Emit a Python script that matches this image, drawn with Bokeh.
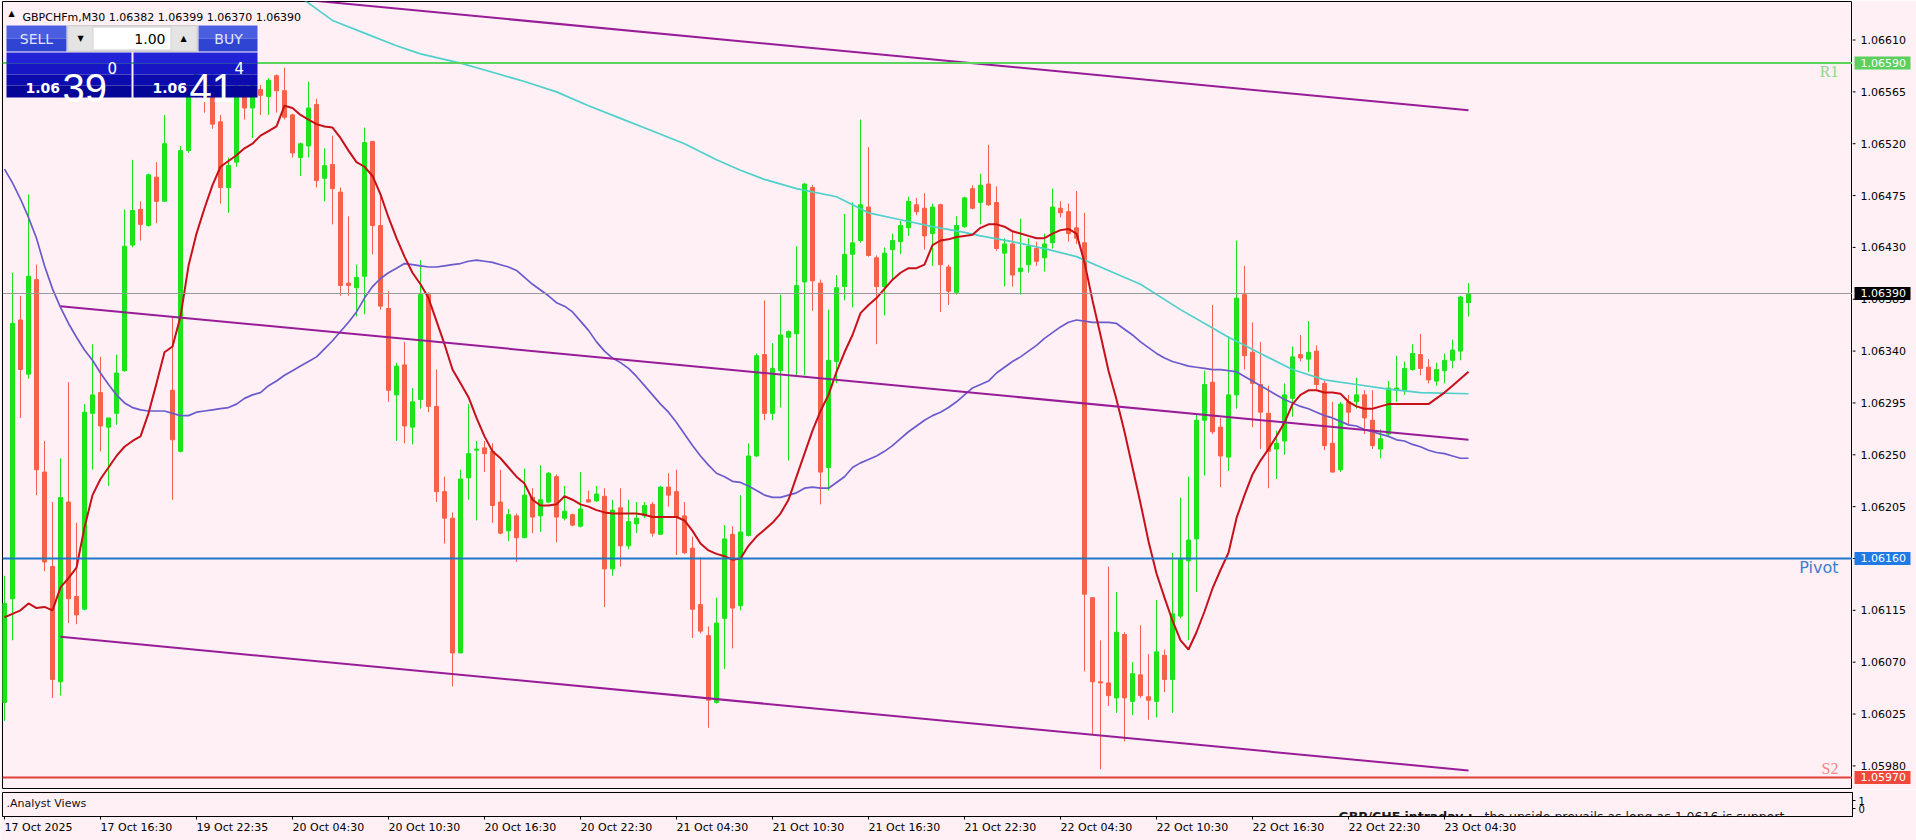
from bokeh.plotting import figure
from bokeh.models import (Range1d, FixedTicker, Label, BoxAnnotation, Span, ColumnDataSource)
from bokeh.layouts import column, row
from bokeh.embed import file_html
from bokeh.resources import INLINE
from bokeh.core.properties import value

# ---------------- data ----------------
symbol = "GBPCHFm,M30"

opens = [
    1.06035, 1.06125, 1.06367, 1.06320, 1.06402, 1.06235, 1.06153, 1.06053, 1.06209, 1.06127,
    1.06116, 1.06286, 1.06304, 1.06274, 1.06286, 1.06323, 1.06432, 1.06463, 1.06449, 1.06491,
    1.06470, 1.06306, 1.06253, 1.06514, 1.06565, 1.06585, 1.06575, 1.06539, 1.06482, 1.06504,
    1.06566, 1.06551, 1.06567, 1.06561, 1.06579, 1.06566, 1.06545, 1.06508, 1.06518, 1.06554,
    1.06490, 1.06502, 1.06478, 1.06399, 1.06395, 1.06405, 1.06522, 1.06449, 1.06377, 1.06302,
    1.06328, 1.06274, 1.06298, 1.06389, 1.06292, 1.06218, 1.06195, 1.06078, 1.06230, 1.06254,
    1.06256, 1.06253, 1.06209, 1.06184, 1.06197, 1.06178, 1.06213, 1.06197, 1.06209, 1.06231,
    1.06195, 1.06198, 1.06188, 1.06211, 1.06210, 1.06214, 1.06151, 1.06204, 1.06171, 1.06190,
    1.06197, 1.06207, 1.06181, 1.06222, 1.06218, 1.06197, 1.06169, 1.06120, 1.06093, 1.06035,
    1.06108, 1.06181, 1.06119, 1.06180, 1.06249, 1.06337, 1.06286, 1.06323, 1.06352, 1.06355,
    1.06400, 1.06482, 1.06399, 1.06239, 1.06331, 1.06396, 1.06424, 1.06436, 1.06465, 1.06421,
    1.06396, 1.06428, 1.06435, 1.06447, 1.06467, 1.06464, 1.06442, 1.06467, 1.06413, 1.06391,
    1.06448, 1.06481, 1.06469, 1.06485, 1.06469, 1.06425, 1.06433, 1.06409, 1.06415, 1.06429,
    1.06421, 1.06434, 1.06464, 1.06461, 1.06447, 1.06434, 1.06126, 1.06053, 1.06052, 1.06039,
    1.06094, 1.06036, 1.06059, 1.06040, 1.06036, 1.06076, 1.06055, 1.06110, 1.06158, 1.06177,
    1.06280, 1.06313, 1.06274, 1.06248, 1.06302, 1.06389, 1.06339, 1.06311, 1.06286, 1.06255,
    1.06262, 1.06299, 1.06337, 1.06333, 1.06340, 1.06312, 1.06260, 1.06237, 1.06296, 1.06296,
    1.06302, 1.06280, 1.06255, 1.06268, 1.06306, 1.06306, 1.06324, 1.06337, 1.06326, 1.06314,
    1.06323, 1.06332, 1.06340, 1.06382]

highs = [
    1.06145, 1.06408, 1.06388, 1.06476, 1.06415, 1.06262, 1.06209, 1.06247, 1.06313, 1.06191,
    1.06294, 1.06346, 1.06335, 1.06282, 1.06337, 1.06463, 1.06506, 1.06470, 1.06494, 1.06504,
    1.06545, 1.06370, 1.06518, 1.06575, 1.06592, 1.06596, 1.06585, 1.06545, 1.06508, 1.06580,
    1.06572, 1.06585, 1.06571, 1.06577, 1.06580, 1.06586, 1.06546, 1.06521, 1.06574, 1.06559,
    1.06516, 1.06527, 1.06482, 1.06457, 1.06415, 1.06534, 1.06522, 1.06476, 1.06392, 1.06330,
    1.06348, 1.06308, 1.06419, 1.06391, 1.06324, 1.06231, 1.06200, 1.06237, 1.06294, 1.06262,
    1.06262, 1.06260, 1.06237, 1.06203, 1.06199, 1.06238, 1.06221, 1.06241, 1.06235, 1.06233,
    1.06223, 1.06199, 1.06235, 1.06219, 1.06223, 1.06221, 1.06211, 1.06221, 1.06211, 1.06209,
    1.06209, 1.06209, 1.06223, 1.06234, 1.06237, 1.06209, 1.06179, 1.06161, 1.06101, 1.06126,
    1.06189, 1.06188, 1.06215, 1.06260, 1.06338, 1.06384, 1.06347, 1.06389, 1.06358, 1.06431,
    1.06486, 1.06484, 1.06402, 1.06376, 1.06406, 1.06459, 1.06469, 1.06541, 1.06517, 1.06423,
    1.06430, 1.06442, 1.06453, 1.06474, 1.06473, 1.06477, 1.06468, 1.06468, 1.06415, 1.06457,
    1.06474, 1.06484, 1.06494, 1.06519, 1.06483, 1.06438, 1.06444, 1.06455, 1.06438, 1.06435,
    1.06442, 1.06481, 1.06470, 1.06468, 1.06479, 1.06460, 1.06126, 1.06089, 1.06153, 1.06131,
    1.06096, 1.06070, 1.06102, 1.06077, 1.06124, 1.06081, 1.06165, 1.06213, 1.06231, 1.06286,
    1.06323, 1.06380, 1.06282, 1.06353, 1.06436, 1.06414, 1.06365, 1.06348, 1.06310, 1.06271,
    1.06312, 1.06344, 1.06354, 1.06366, 1.06345, 1.06314, 1.06296, 1.06296, 1.06302, 1.06317,
    1.06306, 1.06306, 1.06272, 1.06314, 1.06336, 1.06331, 1.06346, 1.06355, 1.06333, 1.06330,
    1.06338, 1.06350, 1.06388, 1.06399]

lows = [
    1.06019, 1.06089, 1.06282, 1.06316, 1.06215, 1.06149, 1.06039, 1.06041, 1.06104, 1.06103,
    1.06115, 1.06237, 1.06253, 1.06223, 1.06276, 1.06322, 1.06430, 1.06436, 1.06448, 1.06451,
    1.06470, 1.06211, 1.06252, 1.06512, 1.06560, 1.06547, 1.06533, 1.06468, 1.06460, 1.06500,
    1.06541, 1.06525, 1.06545, 1.06545, 1.06547, 1.06541, 1.06508, 1.06492, 1.06508, 1.06482,
    1.06470, 1.06450, 1.06388, 1.06388, 1.06370, 1.06372, 1.06424, 1.06376, 1.06296, 1.06262,
    1.06260, 1.06259, 1.06290, 1.06287, 1.06209, 1.06173, 1.06049, 1.06078, 1.06211, 1.06193,
    1.06235, 1.06191, 1.06181, 1.06175, 1.06157, 1.06178, 1.06182, 1.06183, 1.06208, 1.06174,
    1.06193, 1.06188, 1.06187, 1.06209, 1.06209, 1.06118, 1.06145, 1.06153, 1.06168, 1.06182,
    1.06195, 1.06179, 1.06181, 1.06205, 1.06163, 1.06164, 1.06091, 1.06095, 1.06013, 1.06034,
    1.06064, 1.06082, 1.06115, 1.06179, 1.06248, 1.06280, 1.06280, 1.06291, 1.06245, 1.06319,
    1.06319, 1.06375, 1.06207, 1.06219, 1.06312, 1.06384, 1.06378, 1.06434, 1.06422, 1.06346,
    1.06371, 1.06402, 1.06424, 1.06440, 1.06458, 1.06428, 1.06414, 1.06374, 1.06380, 1.06389,
    1.06447, 1.06463, 1.06450, 1.06466, 1.06427, 1.06396, 1.06396, 1.06389, 1.06408, 1.06414,
    1.06409, 1.06429, 1.06456, 1.06435, 1.06433, 1.06062, 1.06007, 1.05977, 1.06032, 1.06026,
    1.06001, 1.06024, 1.06039, 1.06020, 1.06022, 1.06044, 1.06026, 1.06108, 1.06089, 1.06131,
    1.06232, 1.06268, 1.06222, 1.06236, 1.06290, 1.06324, 1.06274, 1.06255, 1.06221, 1.06229,
    1.06250, 1.06283, 1.06331, 1.06322, 1.06307, 1.06254, 1.06235, 1.06235, 1.06276, 1.06290,
    1.06268, 1.06255, 1.06247, 1.06266, 1.06296, 1.06302, 1.06323, 1.06319, 1.06312, 1.06310,
    1.06312, 1.06325, 1.06332, 1.06370]

closes = [
    1.06121, 1.06364, 1.06324, 1.06405, 1.06237, 1.06157, 1.06055, 1.06213, 1.06125, 1.06111,
    1.06287, 1.06302, 1.06275, 1.06282, 1.06321, 1.06431, 1.06462, 1.06450, 1.06493, 1.06470,
    1.06520, 1.06263, 1.06514, 1.06565, 1.06582, 1.06560, 1.06537, 1.06482, 1.06501, 1.06570,
    1.06551, 1.06575, 1.06562, 1.06575, 1.06566, 1.06543, 1.06512, 1.06520, 1.06551, 1.06488,
    1.06501, 1.06481, 1.06397, 1.06397, 1.06404, 1.06521, 1.06449, 1.06379, 1.06306, 1.06327,
    1.06275, 1.06296, 1.06389, 1.06292, 1.06218, 1.06195, 1.06078, 1.06229, 1.06251, 1.06255,
    1.06251, 1.06206, 1.06182, 1.06198, 1.06178, 1.06215, 1.06196, 1.06211, 1.06234, 1.06196,
    1.06201, 1.06189, 1.06203, 1.06209, 1.06216, 1.06151, 1.06202, 1.06171, 1.06192, 1.06195,
    1.06206, 1.06182, 1.06222, 1.06215, 1.06196, 1.06165, 1.06116, 1.06097, 1.06037, 1.06104,
    1.06177, 1.06117, 1.06183, 1.06249, 1.06336, 1.06286, 1.06325, 1.06354, 1.06357, 1.06397,
    1.06485, 1.06401, 1.06235, 1.06332, 1.06395, 1.06424, 1.06434, 1.06467, 1.06423, 1.06396,
    1.06425, 1.06436, 1.06449, 1.06470, 1.06461, 1.06440, 1.06465, 1.06415, 1.06392, 1.06449,
    1.06473, 1.06464, 1.06484, 1.06467, 1.06429, 1.06433, 1.06406, 1.06412, 1.06431, 1.06418,
    1.06433, 1.06465, 1.06460, 1.06442, 1.06438, 1.06129, 1.06053, 1.06052, 1.06041, 1.06096,
    1.06039, 1.06060, 1.06041, 1.06037, 1.06079, 1.06055, 1.06112, 1.06160, 1.06176, 1.06280,
    1.06311, 1.06270, 1.06249, 1.06302, 1.06386, 1.06336, 1.06312, 1.06287, 1.06253, 1.06260,
    1.06302, 1.06335, 1.06334, 1.06339, 1.06311, 1.06258, 1.06235, 1.06294, 1.06287, 1.06302,
    1.06282, 1.06258, 1.06264, 1.06308, 1.06308, 1.06325, 1.06338, 1.06325, 1.06315, 1.06324,
    1.06332, 1.06341, 1.06387, 1.06390]

# fast moving average (red), read bar by bar
red_ma = [
    1.06109, 1.06112, 1.06115, 1.06121, 1.06117, 1.06118, 1.06115, 1.06135, 1.06143, 1.06152,
    1.06187, 1.06215, 1.06229, 1.06239, 1.06249, 1.06257, 1.06262, 1.06266, 1.06286, 1.06312,
    1.06339, 1.06344, 1.06370, 1.06414, 1.06442, 1.06464, 1.06484, 1.06500, 1.06505, 1.06510,
    1.06516, 1.06520, 1.06527, 1.06531, 1.06535, 1.06553, 1.06551, 1.06545, 1.06541, 1.06537,
    1.06535, 1.06534, 1.06525, 1.06514, 1.06504, 1.06500, 1.06492, 1.06476, 1.06456, 1.06438,
    1.06422, 1.06408, 1.06398, 1.06386, 1.06366, 1.06346, 1.06324, 1.06312, 1.06300, 1.06282,
    1.06266, 1.06253, 1.06247, 1.06239, 1.06231, 1.06225, 1.06211, 1.06206, 1.06206, 1.06207,
    1.06214, 1.06211, 1.06207, 1.06205, 1.06202, 1.06200, 1.06199, 1.06199, 1.06199, 1.06199,
    1.06198, 1.06196, 1.06196, 1.06196, 1.06196, 1.06193, 1.06184, 1.06173, 1.06167, 1.06164,
    1.06162, 1.06159, 1.06160, 1.06171, 1.06179, 1.06185, 1.06191, 1.06199, 1.06211, 1.06231,
    1.06251, 1.06271, 1.06288, 1.06302, 1.06322, 1.06339, 1.06354, 1.06373, 1.06380, 1.06386,
    1.06394, 1.06402, 1.06408, 1.06412, 1.06412, 1.06415, 1.06432, 1.06436, 1.06437, 1.06439,
    1.06440, 1.06441, 1.06447, 1.06450, 1.06450, 1.06448, 1.06444, 1.06442, 1.06440, 1.06438,
    1.06438, 1.06442, 1.06445, 1.06446, 1.06442, 1.06417, 1.06384, 1.06354, 1.06323, 1.06298,
    1.06270, 1.06239, 1.06208, 1.06175, 1.06147, 1.06126, 1.06106, 1.06089, 1.06081, 1.06096,
    1.06114, 1.06134, 1.06150, 1.06165, 1.06195, 1.06215, 1.06233, 1.06245, 1.06255, 1.06266,
    1.06278, 1.06294, 1.06302, 1.06306, 1.06306, 1.06304, 1.06304, 1.06303, 1.06296, 1.06292,
    1.06290, 1.06290, 1.06292, 1.06294, 1.06294, 1.06294, 1.06294, 1.06294, 1.06294, 1.06299,
    1.06304, 1.06310, 1.06316, 1.06322]

# slow moving average (slate blue), read bar by bar
slate_ma = [
    1.06498, 1.06486, 1.06472, 1.06456, 1.06438, 1.06414, 1.06394, 1.06378, 1.06364, 1.06352,
    1.06341, 1.06332, 1.06321, 1.06311, 1.06302, 1.06295, 1.06291, 1.06289, 1.06288, 1.06288,
    1.06288, 1.06286, 1.06284, 1.06284, 1.06287, 1.06288, 1.06289, 1.06290, 1.06291, 1.06294,
    1.06299, 1.06302, 1.06304, 1.06310, 1.06314, 1.06319, 1.06323, 1.06327, 1.06331, 1.06335,
    1.06342, 1.06349, 1.06357, 1.06365, 1.06374, 1.06386, 1.06396, 1.06403, 1.06408, 1.06412,
    1.06416, 1.06415, 1.06414, 1.06413, 1.06413, 1.06414, 1.06415, 1.06416, 1.06418, 1.06419,
    1.06418, 1.06417, 1.06415, 1.06413, 1.06410, 1.06404, 1.06398, 1.06393, 1.06388, 1.06382,
    1.06379, 1.06374, 1.06366, 1.06358, 1.06348, 1.06340, 1.06334, 1.06330, 1.06325, 1.06318,
    1.06310, 1.06302, 1.06294, 1.06287, 1.06278, 1.06268, 1.06258, 1.06249, 1.06241, 1.06234,
    1.06231, 1.06227, 1.06226, 1.06223, 1.06219, 1.06215, 1.06213, 1.06213, 1.06215, 1.06217,
    1.06221, 1.06222, 1.06221, 1.06221, 1.06226, 1.06231, 1.06239, 1.06243, 1.06246, 1.06249,
    1.06253, 1.06258, 1.06264, 1.06270, 1.06275, 1.06280, 1.06284, 1.06287, 1.06291, 1.06296,
    1.06302, 1.06308, 1.06311, 1.06314, 1.06321, 1.06326, 1.06331, 1.06335, 1.06340, 1.06345,
    1.06351, 1.06356, 1.06361, 1.06365, 1.06367, 1.06366, 1.06365, 1.06365, 1.06365, 1.06364,
    1.06359, 1.06354, 1.06348, 1.06343, 1.06338, 1.06334, 1.06331, 1.06329, 1.06327, 1.06326,
    1.06325, 1.06324, 1.06324, 1.06323, 1.06322, 1.06318, 1.06314, 1.06310, 1.06306, 1.06302,
    1.06298, 1.06295, 1.06292, 1.06290, 1.06287, 1.06284, 1.06282, 1.06279, 1.06276, 1.06275,
    1.06272, 1.06270, 1.06268, 1.06266, 1.06263, 1.06262, 1.06259, 1.06257, 1.06254, 1.06252,
    1.06251, 1.06249, 1.06247, 1.06247]

# long moving average (turquoise), sampled points
turq_x = [36, 38, 41, 45, 49, 52, 57, 61, 65, 69, 73, 77, 81, 85, 89, 92, 95, 99, 104, 108,
          112, 116, 120, 122, 126, 130, 134, 138, 142, 147, 151, 153, 155, 157, 161, 165, 169,
          173, 177, 183]
turq_y = [1.06652, 1.06642, 1.06627, 1.06616, 1.06605, 1.06598, 1.06590, 1.06582, 1.06574,
          1.06565, 1.06553, 1.06542, 1.06531, 1.06520, 1.06506, 1.06497, 1.06489, 1.06481,
          1.06474, 1.06460, 1.06454, 1.06448, 1.06443, 1.06440, 1.06435, 1.06429, 1.06422,
          1.06410, 1.06398, 1.06376, 1.06360, 1.06352, 1.06345, 1.06338, 1.06324, 1.06315,
          1.06311, 1.06307, 1.06304, 1.06303]

# regression channel (anchor bars and prices)
chan_x = [7, 183]
chan_upper = [1.06665, 1.06549]
chan_mid = [1.06379, 1.06263]
chan_lower = [1.06092, 1.05976]

# pivot levels
level_names = ["R1", "Pivot", "S2"]
level_values = [1.06590, 1.06160, 1.05970]

ask_price = 1.06414

# axes
price_ticks = [1.05980, 1.06025, 1.06070, 1.06115, 1.06160, 1.06205, 1.06250, 1.06295,
               1.06340, 1.06385, 1.06430, 1.06475, 1.06520, 1.06565, 1.06610]
time_ticks = [0, 12, 24, 36, 48, 60, 72, 84, 96, 108, 120, 132, 144, 156, 168, 180]
time_labels = ["17 Oct 2025", "17 Oct 16:30", "19 Oct 22:35", "20 Oct 04:30", "20 Oct 10:30",
               "20 Oct 16:30", "20 Oct 22:30", "21 Oct 04:30", "21 Oct 10:30", "21 Oct 16:30",
               "21 Oct 22:30", "22 Oct 04:30", "22 Oct 10:30", "22 Oct 16:30", "22 Oct 22:30",
               "23 Oct 04:30"]

analyst_title = ".Analyst Views"
analyst_head = "GBP/CHF intraday :"
analyst_text = "the upside prevails as long as 1.0616 is support"

# ---------------- styling ----------------
BG = "#fff0f5"
BULL = "#1de31d"
BEAR = "#f4624d"
FONT = "DejaVu Sans"
LEVEL_LINE = ["#5cd35c", "#1f77c8", "#e2403c"]
LEVEL_TEXT = ["#8fd48f", "#3a7fcc", "#f08a8a"]
LEVEL_FONT = ["Liberation Serif", "DejaVu Sans", "Liberation Serif"]
LEVEL_BASE = ["top", "top", "bottom"]
LEVEL_BOX = ["#5ccf5c", "#1f7ae6", "#f0483a"]

n = len(opens)
bars = list(range(n))
colors = [BULL if c >= o else BEAR for o, c in zip(opens, closes)]
tops = [max(o, c) for o, c in zip(opens, closes)]
bots = [min(o, c) for o, c in zip(opens, closes)]
src = ColumnDataSource(dict(x=bars, h=highs, l=lows, top=tops, bot=bots, col=colors))

x_range = Range1d(-0.25, 231.0)
y_range = Range1d(1.0595951, 1.0664343)

# ---------------- main price window ----------------
p = figure(frame_width=1850, frame_height=788, x_range=x_range, y_range=y_range,
           x_axis_location=None, y_axis_location=None,
           output_backend="svg", toolbar_location=None,
           min_border_left=2, min_border_right=0, min_border_top=1, min_border_bottom=0,
           background_fill_color=BG, border_fill_color=BG, outline_line_color="black")
p.grid.visible = False

# candles
p.segment(x0="x", y0="l", x1="x", y1="h", source=src, line_color="col", line_width=1)
p.vbar(x="x", width=0.5, top="top", bottom="bot", source=src,
       fill_color="col", line_color="col", line_width=1)

# indicators
p.line(turq_x, turq_y, line_color="#4fd0cb", line_width=1.7)
p.line(bars, slate_ma, line_color="#6a5acd", line_width=1.7)
p.line(bars, red_ma, line_color="#c8101a", line_width=2)
for arr in (chan_upper, chan_mid, chan_lower):
    p.line(chan_x, arr, line_color="#981c98", line_width=2)

# current price line
last = closes[-1]
p.add_layout(Span(location=last, dimension="width", line_color="#9a9a9a", line_width=1))

# pivot levels
for name, lv, lc, tc, tf, tb in zip(level_names, level_values, LEVEL_LINE, LEVEL_TEXT,
                                    LEVEL_FONT, LEVEL_BASE):
    p.add_layout(Span(location=lv, dimension="width", line_color=lc, line_width=2))
    p.add_layout(Label(x=1838, y=lv, x_units="canvas", y_units="data", text=name,
                       text_align="right", text_baseline=tb, text_color=tc,
                       text_font=tf, text_font_size="16px"))


# ---- one-click trading panel and header (canvas pixels) ----
def cbox(fig, l, r, t, b, color, line=None):
    fig.add_layout(BoxAnnotation(left=l, right=r, top=t, bottom=b,
                                 left_units="canvas", right_units="canvas",
                                 top_units="canvas", bottom_units="canvas",
                                 fill_color=color, fill_alpha=1.0,
                                 line_color=line, line_width=1, level="overlay"))


def ctext(fig, x, y, text, size, color, align="left", baseline="middle",
          font=FONT, style="normal"):
    fig.add_layout(Label(x=x, y=y, x_units="canvas", y_units="canvas", text=text,
                         text_font_size=f"{size}px", text_color=color, text_align=align,
                         text_baseline=baseline, text_font=font, text_font_style=style,
                         level="overlay"))


for l, r in ((6, 66), (198, 257)):
    cbox(p, l, r, 25, 38, "#4a5ee0")
    cbox(p, l, r, 38, 51, "#2f44d2")
cbox(p, 67, 197, 25, 51, "#d4d4d4", "#a0a0a0")
cbox(p, 93, 170, 27, 49, "#ffffff")
cbox(p, 68, 92, 26, 50, "#e4e4e4")
cbox(p, 171, 196, 26, 50, "#e4e4e4")
for l, r in ((6, 131), (133, 257)):
    cbox(p, l, r, 52, 63, "#2222d6")
    cbox(p, l, r, 63, 74, "#1616c4")
    cbox(p, l, r, 74, 85, "#0c0cae")
    cbox(p, l, r, 85, 97, "#050598")

ctext(p, 36, 38, "SELL", 14, "#e2e6ff", align="center")
ctext(p, 228, 38, "BUY", 14, "#e2e6ff", align="center")
ctext(p, 80, 38, "\u25bc", 8, "black", align="center")
ctext(p, 183, 38, "\u25b2", 8, "black", align="center")
ctext(p, 165, 38, "1.00", 14, "black", align="right")

bid_s = f"{last:.5f}"
ask_s = f"{ask_price:.5f}"
for x0, s_ in ((25, bid_s), (152, ask_s)):
    ctext(p, x0, 87, s_[:4], 14, "white", baseline="alphabetic", style="bold")
    ctext(p, x0 + 37, 87, s_[4:6], 40, "white", baseline="alphabetic", font="Liberation Sans")
    ctext(p, x0 + 82, 61, s_[6], 15, "white", baseline="top")

header = f"{symbol} {opens[-1]:.5f} {highs[-1]:.5f} {lows[-1]:.5f} {closes[-1]:.5f}"
ctext(p, 8, 13, "\u25b2", 8, "black")
ctext(p, 22, 17, header, 11, "black", baseline="alphabetic")

# ---------------- price scale column (right of the main window) ----------------
a = figure(frame_width=64, frame_height=788, x_range=Range1d(0, 64), y_range=y_range,
           x_axis_location=None, y_axis_location=None,
           output_backend="svg", toolbar_location=None,
           min_border_left=0, min_border_right=0, min_border_top=1, min_border_bottom=0,
           background_fill_color=BG, border_fill_color=BG, outline_line_color=None)
a.grid.visible = False
price_tick_labels = [f"{t:.5f}" for t in price_ticks]
a.segment(x0=0, y0=price_ticks, x1=3, y1=price_ticks, line_color="black", line_width=1)
a.text(x=8, y=price_ticks, text=price_tick_labels, text_baseline="middle",
       text_font=value(FONT), text_font_size="11px", text_color="black")

tag_values = level_values + [last]
tag_colors = LEVEL_BOX + ["#000000"]
a.rect(x=30, y=tag_values, width=56, height=13, width_units="screen", height_units="screen",
       fill_color=tag_colors, line_color=None)
a.text(x=8, y=tag_values, text=[f"{v:.5f}" for v in tag_values], text_baseline="middle",
       text_font=value(FONT), text_font_size="11px", text_color="white")

# ---------------- sub window + time axis ----------------
s = figure(frame_width=1850, frame_height=24, x_range=x_range, y_range=Range1d(-1.0, 2.0),
           x_axis_location="below", y_axis_location="right",
           output_backend="svg", toolbar_location=None,
           min_border_left=2, min_border_right=64, min_border_top=3, min_border_bottom=23,
           background_fill_color=BG, border_fill_color=BG, outline_line_color="black")
s.grid.visible = False

xa = s.xaxis[0]
xa.ticker = FixedTicker(ticks=time_ticks)
xa.major_label_overrides = dict(zip(time_ticks, time_labels))
xa.major_label_orientation = -0.000001
xa.major_label_text_font = FONT
xa.major_label_text_font_size = "11px"
xa.major_label_text_color = "black"
xa.axis_line_color = "black"
xa.major_tick_line_color = "black"
xa.major_tick_out = 3
xa.major_tick_in = 0
xa.minor_tick_out = 0
xa.minor_tick_in = 0
xa.major_label_standoff = 8

sy = s.yaxis[0]
sy.ticker = FixedTicker(ticks=[0, 1])
sy.major_label_text_font = FONT
sy.major_label_text_font_size = "10px"
sy.major_label_text_color = "black"
sy.axis_line_color = "black"
sy.major_tick_line_color = "black"
sy.major_tick_out = 3
sy.major_tick_in = 0
sy.minor_tick_out = 0
sy.minor_tick_in = 0
sy.major_label_standoff = 3

ctext(s, 6, 14, analyst_title, 11, "#111111")
ctext(s, 1338, 26.5, analyst_head, 12.5, "#1a1a1a", baseline="alphabetic", style="bold")
ctext(s, 1484, 26.5, analyst_text, 12.5, "#1a1a1a", baseline="alphabetic")

layout = column(row(p, a), s)
open("out.html", "w").write(file_html(layout, INLINE, title="GBPCHFm,M30"))
